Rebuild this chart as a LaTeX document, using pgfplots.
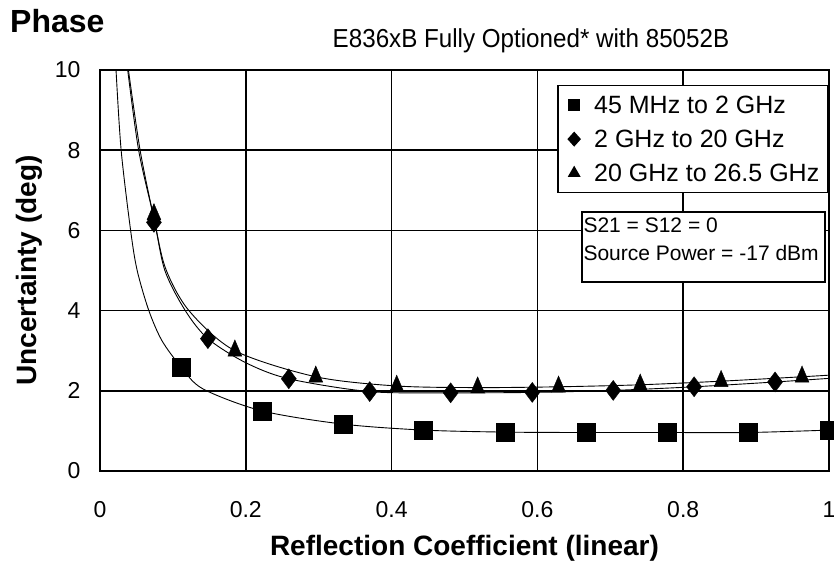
\documentclass[border=0pt]{standalone}
\usepackage{fontspec}
\setmainfont{Liberation Sans}
\newfontfamily\narrowfont[FakeStretch=0.93]{Liberation Sans}
\usepackage{pgfplots}
\pgfplotsset{compat=1.18}
\begin{document}
\begin{tikzpicture}
  \begin{axis}[
      at={(0,0)}, anchor=south west,
      width=729pt, height=401pt, scale only axis,
      xmin=0, xmax=1, ymin=0, ymax=10,
      xtick={0,0.2,0.4,0.6,0.8,1},
      ytick={0,2,4,6,8,10},
      grid=major,
      major grid style={black, line width=1.6pt},
      axis line style={black, line width=1.8pt},
      tick style={draw=none},
      /pgf/number format/assume math mode=true,
      ticklabel style={font=\fontsize{23}{27}\selectfont},
      xticklabel style={anchor=north, yshift=-27pt},
      yticklabel style={anchor=east, xshift=-16pt},
      xlabel={Reflection Coefficient (linear)},
      ylabel={Uncertainty (deg)},
      xlabel style={at={(axis description cs:0.5,-0.2095)}, anchor=base,
                    font=\bfseries\fontsize{28}{32}\selectfont},
      ylabel style={at={(axis description cs:-0.087,0.5)}, anchor=base,
                    font=\bfseries\fontsize{28}{32}\selectfont},
      legend style={at={(rel axis cs:0.9986,0.9626)}, anchor=north east,
                    draw=black, line width=1.4pt, fill=white,
                    font=\fontsize{25}{29}\selectfont,
                    inner xsep=6pt, inner ysep=8pt, row sep=11pt},
      legend cell align=left,
      legend image code/.code={
        \path[draw=none] (0pt,0pt) -- (28pt,0pt);
        \draw[#1] plot coordinates {(10pt,0pt)};
      },
    ]
    % fitted curves
    \addplot [black, line width=0.9pt, smooth, tension=0.5, forget plot] coordinates {
      (0.022,10) (0.029,8) (0.042,6) (0.051,5) (0.067,4) (0.085,3.25) (0.111,2.6)
      (0.141,2.05) (0.222,1.5) (0.333,1.17) (0.444,1.02) (0.556,0.97)
      (0.667,0.96) (0.778,0.96) (0.889,0.96) (1.0,1.02) };
    \addplot [black, line width=0.9pt, smooth, tension=0.5, forget plot] coordinates {
      (0.038,10) (0.053,8) (0.074,6.3) (0.089,5) (0.117,4) (0.148,3.3) (0.2,2.7)
      (0.259,2.3) (0.370,1.98) (0.481,1.95) (0.593,1.96) (0.704,2.01)
      (0.815,2.1) (0.926,2.22) (1.0,2.31) };
    \addplot [black, line width=0.9pt, smooth, tension=0.5, forget plot] coordinates {
      (0.039,10) (0.055,8) (0.074,6.3) (0.090,5.05) (0.122,4) (0.185,3.0)
      (0.296,2.35) (0.407,2.12) (0.518,2.08) (0.629,2.1) (0.741,2.15)
      (0.852,2.24) (0.963,2.35) (1.0,2.39) };
    % measured points
    \addplot [only marks, mark=square*, mark size=9pt, black, forget plot] coordinates {
      (0.111,2.6) (0.222,1.5) (0.333,1.17) (0.444,1.02) (0.556,0.97)
      (0.667,0.96) (0.778,0.96) (0.889,0.96) (1.0,1.02) };
    \addplot [only marks, mark=diamond*, mark size=10pt, black, forget plot] coordinates {
      (0.074,6.2) (0.148,3.3) (0.259,2.3) (0.370,1.98) (0.481,1.95)
      (0.593,1.96) (0.704,2.01) (0.815,2.1) (0.926,2.22) };
    \addplot [only marks, mark=triangle*, mark size=8pt, mark options={yscale=1.35}, black, forget plot] coordinates {
      (0.074,6.4) (0.185,3.0) (0.296,2.35) (0.407,2.12) (0.518,2.08)
      (0.629,2.1) (0.741,2.15) (0.852,2.24) (0.963,2.35) };
    % note box
    \draw [fill=white, line width=1.4pt] (axis cs:0.661,4.71) rectangle (axis cs:0.9945,6.46);
    \node [anchor=base west, inner sep=0pt, font=\fontsize{21}{25}\selectfont]
      at (axis cs:0.663,5.94) {S21 = S12 = 0};
    \node [anchor=base west, inner sep=0pt, font=\fontsize{21}{25}\selectfont]
      at (axis cs:0.663,5.26) {Source Power = -17 dBm};
    % legend
    \addlegendimage{only marks, mark=square*, mark size=5.5pt, black}
    \addlegendentry{45 MHz to 2 GHz}
    \addlegendimage{only marks, mark=diamond*, mark size=6.5pt, mark options={xscale=1.2}, black}
    \addlegendentry{2 GHz to 20 GHz}
    \addlegendimage{only marks, mark=triangle*, mark size=6pt, black}
    \addlegendentry{20 GHz to 26.5 GHz}
  \end{axis}
  \node [anchor=base west, inner sep=0pt, font=\bfseries\fontsize{32}{36}\selectfont] at (-90pt,438pt) {Phase};
  \node [anchor=base, inner sep=0pt, font=\narrowfont\fontsize{26}{30}\selectfont] at (431pt,423pt) {E836xB Fully Optioned* with 85052B};
  \pgfresetboundingbox
  \path [use as bounding box] (-100pt,-91pt) rectangle (734pt,471pt);
\end{tikzpicture}
\end{document}
